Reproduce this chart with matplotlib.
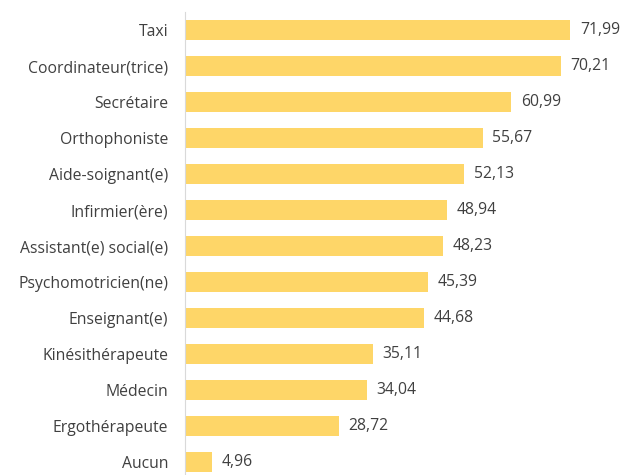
import matplotlib.pyplot as plt

categories = ["Taxi", "Coordinateur(trice)", "Secrétaire", "Orthophoniste",
              "Aide-soignant(e)", "Infirmier(ère)", "Assistant(e) social(e)",
              "Psychomotricien(ne)", "Enseignant(e)", "Kinésithérapeute",
              "Médecin", "Ergothérapeute", "Aucun"]
values = [71.99, 70.21, 60.99, 55.67, 52.13, 48.94, 48.23,
          45.39, 44.68, 35.11, 34.04, 28.72, 4.96]

plt.rcParams['font.family'] = ['Open Sans', 'DejaVu Sans']

fig = plt.figure(figsize=(6.22, 4.75), dpi=100)
ax = fig.add_axes([185/622, 0, 428/622, 463/475])

ypos = list(range(len(categories)))
ax.barh(ypos, values, height=0.56, color='#FED668')

for y, v in zip(ypos, values):
    ax.text(v + 1.8, y, f"{v:.2f}".replace('.', ','), va='center', ha='left',
            fontsize=11.3, color='#404040')

ax.set_yticks(ypos)
ax.set_yticklabels(categories, fontsize=11.3, color='#404040')
ax.tick_params(axis='y', length=0, pad=12)
ax.set_xticks([])
ax.set_xlim(0, 80)
ax.set_ylim(12.36, -0.5)

for s in ['top', 'right', 'bottom']:
    ax.spines[s].set_visible(False)
ax.spines['left'].set_color('#D9D9D9')
ax.spines['left'].set_linewidth(0.8)

fig.savefig('out.png', dpi=100)
